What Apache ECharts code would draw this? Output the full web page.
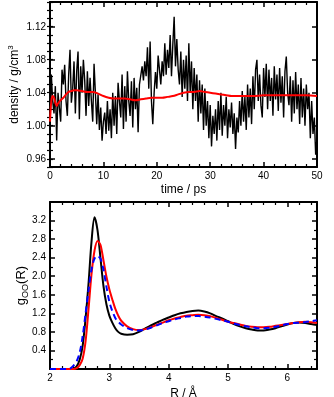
<!DOCTYPE html>
<html>
<head>
<meta charset="utf-8">
<script src="https://cdn.jsdelivr.net/npm/echarts@6/dist/echarts.min.js"></script>
<style>
  html, body { margin: 0; padding: 0; background: #fff; }
  #chart { width: 334px; height: 397px; }
</style>
</head>
<body>
<div id="chart"></div>
<script>
// top panel: density vs time (one sample every 0.25 ps, rows of 3 ps)
const timeStep = 0.25
const density = [
  1.000, 1.062, 1.030, 1.015, 1.048, 0.982, 1.040, 1.022, 1.005, 1.068, 1.050, 1.074,
  1.030, 1.012, 1.062, 1.092, 1.028, 1.045, 1.078, 1.015, 1.066, 1.090, 1.008, 1.072,
  1.040, 1.080, 1.055, 1.012, 1.066, 1.024, 1.058, 1.030, 1.005, 1.075, 1.040, 1.002,
  1.038, 0.995, 1.022, 0.982, 1.005, 1.016, 0.990, 1.030, 0.994, 1.020, 0.985, 1.040,
  1.000, 1.036, 0.990, 1.052, 1.030, 1.010, 1.062, 0.996, 1.048, 1.005, 1.066, 1.030,
  1.012, 1.054, 0.998, 1.058, 1.020, 1.046, 0.992, 1.050, 1.048, 1.072, 1.055, 1.078,
  1.060, 1.095, 1.045, 1.102, 1.030, 1.002, 1.040, 1.065, 1.045, 1.085, 1.068, 1.050,
  1.078, 1.060, 1.100, 1.062, 1.092, 1.070, 1.110, 1.060, 1.098, 1.132, 1.072, 1.105,
  1.068, 1.050, 1.090, 1.035, 1.080, 1.045, 1.085, 1.030, 1.100, 1.040, 1.078, 1.020,
  1.070, 1.030, 1.062, 1.005, 1.055, 1.015, 1.050, 0.995, 1.045, 1.000, 1.030, 0.985,
  1.025, 0.975, 1.012, 0.990, 1.020, 0.982, 1.030, 0.995, 1.040, 0.988, 1.025, 1.000,
  1.035, 0.985, 1.020, 0.998, 1.028, 0.990, 1.015, 0.972, 1.010, 0.992, 1.030, 1.000,
  1.042, 1.005, 1.035, 0.995, 1.050, 1.010, 1.045, 1.002, 1.060, 1.020, 1.068, 1.080,
  1.030, 1.062, 1.025, 1.010, 1.070, 1.035, 1.075, 1.020, 1.068, 1.030, 1.058, 1.012,
  1.072, 1.032, 1.062, 1.018, 1.070, 1.028, 1.060, 1.010, 1.066, 1.084, 1.040, 1.025,
  1.060, 1.005, 1.055, 1.015, 1.065, 1.020, 1.050, 1.002, 1.058, 1.010, 1.045, 1.000,
  1.050, 1.020, 1.040, 0.985, 1.030, 0.990, 1.010, 0.965, 0.985
]
// running average (red)
const avgTime = [0, 0.25, 0.5, 0.75, 1, 1.25, 1.5, 2, 2.5, 3, 3.5, 4, 4.5, 5, 6, 7, 8, 9, 10, 11,
  12, 13, 14, 15, 16, 17, 18, 19, 20, 21, 22, 23, 24, 25, 26, 27, 28, 29, 30, 31, 32, 33, 34,
  35, 36, 38, 40, 42, 44, 46, 48, 50]
const avgDensity = [1.005, 1.030, 1.036, 1.034, 1.028, 1.024, 1.027, 1.031, 1.034, 1.038, 1.041,
  1.042, 1.043, 1.043, 1.042, 1.041, 1.041, 1.039, 1.036, 1.034, 1.033, 1.033, 1.033, 1.032,
  1.031, 1.032, 1.033, 1.034, 1.034, 1.034, 1.035, 1.036, 1.038, 1.040, 1.041, 1.041, 1.042,
  1.041, 1.040, 1.039, 1.038, 1.037, 1.036, 1.036, 1.036, 1.036, 1.037, 1.037, 1.037, 1.037,
  1.037, 1.036]
const densityTicks = [0.96, 1.00, 1.04, 1.08, 1.12]

// bottom panel: g_OO(R)
const rValues = [2.0, 2.1, 2.2, 2.3, 2.35, 2.4, 2.45, 2.5, 2.55, 2.6, 2.65, 2.7, 2.75, 2.8, 2.85,
  2.9, 2.95, 3.0, 3.05, 3.1, 3.15, 3.2, 3.3, 3.4, 3.5, 3.6, 3.7, 3.8, 3.9, 4.0, 4.1, 4.2, 4.3,
  4.4, 4.5, 4.6, 4.7, 4.8, 4.9, 5.0, 5.1, 5.2, 5.3, 5.4, 5.5, 5.6, 5.7, 5.8, 5.9, 6.0, 6.1,
  6.2, 6.3, 6.4, 6.5]
const gBlack = [0, 0, 0, 0, 0, 0.01, 0.06, 0.2, 0.5, 1.1, 1.85, 2.75, 3.27, 3.0, 2.4, 1.8, 1.4,
  1.15, 1.0, 0.88, 0.8, 0.76, 0.74, 0.75, 0.8, 0.87, 0.94, 1.0, 1.06, 1.11, 1.16, 1.2, 1.23,
  1.25, 1.26, 1.24, 1.2, 1.14, 1.09, 1.03, 0.97, 0.92, 0.88, 0.85, 0.83, 0.83, 0.85, 0.88,
  0.92, 0.96, 0.99, 1.0, 0.99, 0.97, 0.95]
const gRed = [0, 0, 0, 0, 0, 0, 0.02, 0.08, 0.22, 0.6, 1.3, 2.05, 2.55, 2.76, 2.68, 2.35, 2.0,
  1.72, 1.5, 1.3, 1.15, 1.04, 0.92, 0.86, 0.84, 0.86, 0.9, 0.95, 1.0, 1.05, 1.09, 1.12, 1.15,
  1.16, 1.17, 1.16, 1.14, 1.1, 1.06, 1.02, 0.99, 0.96, 0.93, 0.91, 0.9, 0.9, 0.91, 0.93, 0.95,
  0.97, 0.99, 1.01, 1.02, 1.01, 0.99]
const gBlue = [0, 0, 0, 0, 0.02, 0.08, 0.17, 0.35, 0.7, 1.2, 1.7, 2.15, 2.38, 2.44, 2.38, 2.15,
  1.78, 1.45, 1.25, 1.1, 1.02, 0.96, 0.88, 0.84, 0.83, 0.85, 0.89, 0.94, 0.99, 1.03, 1.07, 1.1,
  1.13, 1.14, 1.14, 1.13, 1.11, 1.08, 1.05, 1.02, 0.98, 0.95, 0.92, 0.9, 0.88, 0.88, 0.89, 0.91,
  0.94, 0.97, 0.99, 1.0, 1.01, 1.03, 1.05]

const font = 'Liberation Sans, Arial, sans-serif'
const densityData = density.map((d, i) => [i * timeStep, d])
const avgData = avgTime.map((t, i) => [t, avgDensity[i]])
const pairs = (ys) => rValues.map((r, i) => [r, ys[i]])

const frameLine = { show: true, lineStyle: { color: '#000', width: 2 }, onZero: false }
const majorTick = { show: true, inside: true, length: 5, lineStyle: { color: '#000', width: 1.5 } }
const minorTick = (n) => ({ show: true, splitNumber: n, length: 3, lineStyle: { color: '#000', width: 1.2 } })
const tickLabel = { color: '#000', fontSize: 10, fontFamily: font, margin: 4 }
const nameStyle = { color: '#000', fontSize: 12, fontFamily: font }

const chart = echarts.init(document.getElementById('chart'))
chart.setOption({
  animation: false,
  backgroundColor: '#fff',
  grid: [
    { left: 50, top: 2, width: 267, height: 165, containLabel: false, outerBoundsMode: 'none' },
    { left: 50, top: 202, width: 267, height: 167, containLabel: false, outerBoundsMode: 'none' },
  ],
  xAxis: [
    {
      gridIndex: 0, type: 'value', position: 'bottom', min: 0, max: 50, interval: 10,
      axisLine: frameLine, axisTick: majorTick, minorTick: minorTick(5),
      axisLabel: tickLabel, splitLine: { show: false },
      name: 'time / ps', nameLocation: 'middle', nameGap: 17, nameTextStyle: nameStyle,
    },
    {
      gridIndex: 0, type: 'value', position: 'top', min: 0, max: 50, interval: 10,
      axisLine: frameLine, axisTick: majorTick, minorTick: minorTick(5),
      axisLabel: { show: false }, splitLine: { show: false },
    },
    {
      gridIndex: 1, type: 'value', position: 'bottom', min: 2, max: 6.5, interval: 1,
      axisLine: frameLine, axisTick: majorTick, minorTick: minorTick(5),
      axisLabel: { ...tickLabel, showMaxLabel: false }, splitLine: { show: false },
      name: 'R / Å', nameLocation: 'middle', nameGap: 19, nameTextStyle: nameStyle,
    },
    {
      gridIndex: 1, type: 'value', position: 'top', min: 2, max: 6.5, interval: 1,
      axisLine: frameLine, axisTick: majorTick, minorTick: minorTick(5),
      axisLabel: { show: false }, splitLine: { show: false },
    },
  ],
  yAxis: [
    {
      gridIndex: 0, type: 'value', position: 'left', min: 0.95, max: 1.15,
      axisLine: frameLine,
      axisTick: { ...majorTick, customValues: densityTicks },
      axisLabel: { ...tickLabel, customValues: densityTicks, formatter: (v) => v.toFixed(2) },
      splitLine: { show: false },
      name: '{t|density / g/cm}{sup|3}', nameLocation: 'middle', nameGap: 27, nameMoveOverlap: false,
      nameTextStyle: {
        ...nameStyle,
        rich: {
          t: { fontSize: 12, fontFamily: font, color: '#000' },
          sup: { fontSize: 8, fontFamily: font, color: '#000', padding: [0, 0, 8, 0] },
        },
      },
    },
    {
      gridIndex: 0, type: 'value', position: 'left', min: 0.95, max: 1.15, interval: 0.01,
      axisLine: { show: false },
      axisTick: { show: true, inside: true, length: 3, lineStyle: { color: '#000', width: 1.2 } },
      axisLabel: { show: false }, splitLine: { show: false },
    },
    {
      gridIndex: 0, type: 'value', position: 'right', min: 0.95, max: 1.15,
      axisLine: frameLine,
      axisTick: { ...majorTick, customValues: densityTicks },
      axisLabel: { show: false }, splitLine: { show: false },
    },
    {
      gridIndex: 0, type: 'value', position: 'right', min: 0.95, max: 1.15, interval: 0.01,
      axisLine: { show: false },
      axisTick: { show: true, inside: true, length: 3, lineStyle: { color: '#000', width: 1.2 } },
      axisLabel: { show: false }, splitLine: { show: false },
    },
    {
      gridIndex: 1, type: 'value', position: 'left', min: 0, max: 3.6, interval: 0.4,
      axisLine: frameLine, axisTick: majorTick, minorTick: minorTick(2),
      axisLabel: { ...tickLabel, showMinLabel: false, showMaxLabel: false, formatter: (v) => v.toFixed(1) },
      splitLine: { show: false },
      name: '{t|g}{sub|OO}{t|(R)}', nameLocation: 'middle', nameGap: 20, nameMoveOverlap: false,
      nameTextStyle: {
        ...nameStyle,
        rich: {
          t: { fontSize: 13, fontFamily: font, color: '#000' },
          sub: { fontSize: 9, fontFamily: font, color: '#000', padding: [8, 0, 0, 0] },
        },
      },
    },
    {
      gridIndex: 1, type: 'value', position: 'right', min: 0, max: 3.6, interval: 0.4,
      axisLine: frameLine, axisTick: majorTick, minorTick: minorTick(2),
      axisLabel: { show: false }, splitLine: { show: false },
    },
  ],
  series: [
    {
      name: 'density', type: 'line', xAxisIndex: 0, yAxisIndex: 0,
      data: densityData, showSymbol: false, symbol: 'none',
      lineStyle: { color: '#000', width: 1.4 },
    },
    {
      name: 'average', type: 'line', xAxisIndex: 0, yAxisIndex: 0,
      data: avgData, showSymbol: false, symbol: 'none', smooth: 0.3,
      lineStyle: { color: '#ff0000', width: 2 },
    },
    {
      name: 'black', type: 'line', xAxisIndex: 2, yAxisIndex: 4,
      data: pairs(gBlack), showSymbol: false, symbol: 'none', smooth: 0.3,
      lineStyle: { color: '#000', width: 2 },
    },
    {
      name: 'red', type: 'line', xAxisIndex: 2, yAxisIndex: 4,
      data: pairs(gRed), showSymbol: false, symbol: 'none', smooth: 0.3,
      lineStyle: { color: '#ff0000', width: 2 },
    },
    {
      name: 'blue', type: 'line', xAxisIndex: 2, yAxisIndex: 4,
      data: pairs(gBlue), showSymbol: false, symbol: 'none', smooth: 0.3,
      lineStyle: { color: '#0000ff', width: 2, type: [6, 4] },
    },
  ],
})
</script>
</body>
</html>
